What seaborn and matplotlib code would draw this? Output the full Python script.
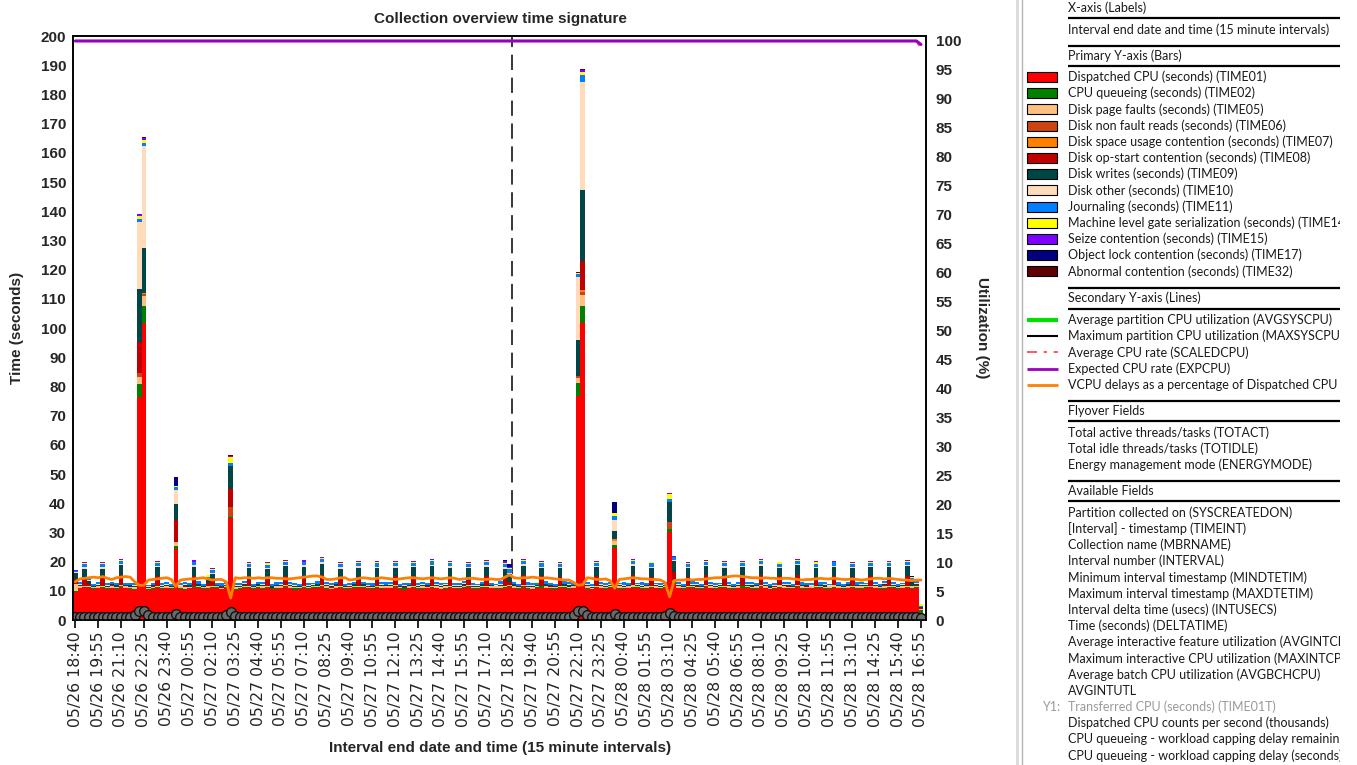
import numpy as np
import pandas as pd
import matplotlib
matplotlib.use('Agg')
import matplotlib.pyplot as plt
import seaborn as sns
from matplotlib.patches import Rectangle

# ---- data: one bar per 15 minute interval, 05/26 18:40 .. 05/28 16:55 ----
n = 186
stamps = pd.date_range('2021-05-26 18:40', periods=n, freq='15min')
interval_labels = stamps.strftime('%m/%d %H:%M').tolist()

# Dispatched CPU (seconds) (TIME01)
time01 = [
    9.5, 10.8, 11.2, 10.9, 10.6, 10.8, 11.0, 10.7, 10.9, 10.5,
    11.3, 10.8, 10.6, 10.4, 76.5, 101.6, 10.2, 10.6, 11.0, 10.7,
    10.8, 10.5, 24.2, 10.6, 10.4, 10.8, 11.2, 10.9, 10.7, 10.6,
    11.0, 10.8, 10.5, 10.9, 34.8, 10.4, 10.7, 10.9, 11.1, 10.6,
    10.8, 10.7, 11.0, 10.5, 10.6, 10.9, 11.2, 10.8, 10.4, 10.7,
    11.0, 10.6, 10.8, 10.9, 11.3, 10.7, 10.5, 10.8, 11.0, 10.6,
    10.7, 10.9, 11.1, 10.8, 10.5, 10.6, 11.0, 10.7, 10.9, 10.8,
    11.2, 10.6, 10.4, 10.8, 11.0, 10.7, 10.6, 10.9, 11.1, 10.8,
    10.5, 10.7, 11.0, 10.9, 10.6, 10.8, 11.2, 10.7, 10.5, 10.9,
    11.1, 10.8, 10.6, 10.7, 11.0, 11.3, 10.8, 10.6, 11.2, 10.7,
    10.5, 10.9, 11.1, 10.8, 10.6, 10.7, 11.0, 10.9, 10.6, 10.8,
    76.7, 101.6, 10.7, 10.5, 11.0, 10.8, 10.6, 10.9, 24.6, 10.7,
    10.5, 10.8, 11.1, 10.9, 10.6, 10.7, 11.0, 10.8, 10.5, 10.9,
    30.3, 12.5, 10.8, 10.6, 11.0, 10.9, 10.7, 10.5, 11.2, 10.8,
    10.6, 10.9, 11.0, 10.7, 10.5, 10.8, 11.1, 10.9, 10.6, 10.7,
    11.2, 10.8, 10.5, 10.7, 11.0, 10.9, 10.6, 10.8, 11.3, 10.7,
    10.5, 10.9, 11.0, 10.8, 10.6, 10.7, 11.1, 10.9, 10.5, 10.8,
    11.0, 10.7, 10.6, 10.9, 11.2, 10.8, 10.5, 10.7, 11.0, 10.9,
    10.6, 10.8, 11.1, 10.7, 11.0, 2.5,
]
# CPU queueing (seconds) (TIME02)
time02 = [
    0.5, 0.3, 0.2, 0.3, 0.4, 0.2, 0.3, 0.3, 0.2, 0.4,
    0.3, 0.2, 0.4, 0.3, 4.3, 5.9, 0.3, 0.2, 0.3, 0.4,
    0.2, 0.3, 1.1, 0.4, 0.3, 0.2, 0.3, 0.4, 0.2, 0.3,
    0.3, 0.4, 0.2, 0.3, 0.6, 0.3, 0.2, 0.4, 0.3, 0.2,
    0.4, 0.3, 0.2, 0.3, 0.4, 0.2, 0.3, 0.3, 0.4, 0.2,
    0.3, 0.2, 0.4, 0.3, 0.3, 0.4, 0.2, 0.3, 0.3, 0.2,
    0.4, 0.3, 0.2, 0.4, 0.3, 0.2, 0.3, 0.4, 0.2, 0.3,
    0.3, 0.2, 0.4, 0.3, 0.2, 0.3, 0.4, 0.2, 0.3, 0.3,
    0.2, 0.4, 0.3, 0.2, 0.3, 0.4, 0.3, 0.2, 0.4, 0.3,
    0.3, 0.2, 0.3, 0.4, 0.2, 0.3, 0.3, 0.2, 0.4, 0.3,
    0.2, 0.3, 0.4, 0.3, 0.2, 0.3, 0.3, 0.4, 0.2, 0.3,
    4.5, 5.8, 0.3, 0.2, 0.4, 0.3, 0.2, 0.3, 1.2, 0.3,
    0.4, 0.2, 0.3, 0.3, 0.2, 0.4, 0.3, 0.2, 0.3, 0.4,
    0.7, 0.4, 0.3, 0.2, 0.3, 0.4, 0.2, 0.3, 0.3, 0.2,
    0.3, 0.4, 0.2, 0.3, 0.3, 0.2, 0.4, 0.3, 0.2, 0.3,
    0.4, 0.3, 0.2, 0.3, 0.4, 0.2, 0.3, 0.3, 0.2, 0.4,
    0.3, 0.2, 0.3, 0.4, 0.2, 0.3, 0.3, 0.2, 0.4, 0.3,
    0.2, 0.3, 0.4, 0.3, 0.2, 0.3, 0.3, 0.4, 0.2, 0.3,
    0.3, 0.2, 0.3, 0.4, 0.3, 0.8,
]
# Disk page faults (seconds) (TIME05)
time05 = [
    2.5, 0.5, 0.4, 0.6, 0.4, 0.5, 0.3, 0.4, 0.6, 0.5,
    0.4, 0.5, 0.3, 0.6, 2.3, 3.5, 0.4, 0.5, 0.4, 0.3,
    0.5, 0.4, 1.5, 0.5, 0.6, 0.4, 0.3, 0.5, 0.4, 0.6,
    0.5, 0.3, 0.4, 0.5, 0.0, 0.6, 0.4, 0.5, 0.3, 0.4,
    0.5, 0.6, 0.4, 0.3, 0.5, 0.4, 0.5, 0.6, 0.4, 0.3,
    0.4, 0.5, 0.6, 0.4, 0.3, 0.5, 0.4, 0.6, 0.5, 0.4,
    0.3, 0.5, 0.4, 0.6, 0.5, 0.4, 0.3, 0.5, 0.4, 0.6,
    0.5, 0.4, 0.3, 0.5, 0.6, 0.4, 0.5, 0.3, 0.4, 0.5,
    0.6, 0.4, 0.5, 0.3, 0.4, 0.6, 0.5, 0.4, 0.3, 0.5,
    0.4, 0.5, 0.6, 0.4, 0.3, 0.4, 0.5, 0.6, 0.4, 0.3,
    0.5, 0.4, 0.3, 0.6, 0.5, 0.4, 0.4, 0.5, 0.6, 0.4,
    1.6, 3.9, 0.5, 0.4, 0.3, 0.5, 0.6, 0.4, 1.2, 0.5,
    0.4, 0.6, 0.5, 0.3, 0.4, 0.5, 0.4, 0.6, 0.5, 0.3,
    0.0, 0.4, 0.5, 0.6, 0.4, 0.3, 0.5, 0.4, 0.6, 0.5,
    0.3, 0.4, 0.5, 0.6, 0.4, 0.5, 0.3, 0.4, 0.5, 0.6,
    0.4, 0.5, 0.3, 0.4, 0.6, 0.5, 0.4, 0.3, 0.5, 0.4,
    0.6, 0.4, 0.5, 0.3, 0.4, 0.5, 0.6, 0.4, 0.3, 0.5,
    0.4, 0.5, 0.6, 0.4, 0.3, 0.5, 0.4, 0.6, 0.5, 0.4,
    0.3, 0.5, 0.4, 0.6, 0.5, 0.3,
]
# Disk non fault reads (TIME06), disk space usage contention (TIME07) - only a few intervals
time06 = {14: 1.4, 15: 0.6, 34: 3.2, 110: 0.8, 111: 1.2, 130: 2.7, 131: 0.5}
time07 = {15: 0.3, 111: 0.4, 118: 0.6}
# Disk op-start contention (seconds) (TIME08)
time08 = [
    1.5, 0.0, 2.6, 0.4, 0.0, 0.1, 3.0, 0.0, 0.2, 0.0,
    3.4, 0.0, 0.1, 0.0, 10.8, 0.0, 0.0, 0.2, 3.2, 0.0,
    0.1, 0.0, 7.4, 0.0, 0.2, 0.0, 3.1, 0.0, 0.0, 1.2,
    2.4, 0.0, 0.1, 0.0, 6.3, 0.0, 0.0, 0.2, 3.0, 0.0,
    0.0, 0.1, 2.9, 0.0, 0.0, 0.2, 3.1, 0.0, 0.1, 0.0,
    3.3, 0.0, 0.0, 0.1, 3.6, 0.0, 0.2, 0.0, 2.8, 0.0,
    0.1, 0.0, 3.0, 0.0, 0.2, 0.0, 3.2, 0.0, 0.0, 0.1,
    2.9, 0.0, 0.1, 0.0, 3.1, 0.0, 0.0, 0.2, 3.3, 0.0,
    0.0, 0.1, 3.0, 0.0, 0.0, 0.2, 2.8, 0.0, 0.1, 0.0,
    3.2, 0.0, 0.0, 0.1, 3.0, 1.0, 0.2, 0.0, 3.3, 0.0,
    0.1, 0.0, 3.1, 0.0, 0.2, 0.0, 2.9, 0.0, 0.0, 0.1,
    0.0, 9.9, 0.1, 0.0, 3.2, 0.0, 0.0, 0.2, 0.0, 0.0,
    0.1, 0.0, 3.4, 0.0, 0.2, 0.0, 3.1, 0.0, 0.0, 0.1,
    0.0, 2.6, 0.1, 0.0, 3.0, 0.0, 0.2, 0.0, 3.2, 0.0,
    0.0, 0.1, 3.1, 0.0, 0.0, 0.2, 3.0, 0.0, 0.1, 0.0,
    3.3, 0.0, 0.0, 0.1, 2.9, 0.0, 0.2, 0.0, 3.4, 0.0,
    0.1, 0.0, 3.0, 0.0, 0.2, 0.0, 3.1, 0.0, 0.0, 0.1,
    3.0, 0.0, 0.1, 0.0, 3.2, 0.0, 0.0, 0.2, 3.1, 0.0,
    0.0, 0.1, 3.3, 0.0, 0.2, 0.6,
]
# Disk writes (seconds) (TIME09)
time09 = [
    2.0, 0.4, 3.2, 1.2, 0.3, 0.5, 3.0, 0.4, 0.3, 0.5,
    3.4, 0.4, 0.5, 0.3, 18.1, 15.4, 0.4, 0.5, 3.1, 0.3,
    0.4, 0.5, 5.5, 0.3, 0.4, 0.5, 3.2, 0.4, 0.3, 1.0,
    1.6, 0.4, 0.5, 0.3, 7.8, 0.4, 0.5, 0.3, 3.1, 0.4,
    0.5, 0.3, 3.0, 0.4, 0.5, 0.3, 3.3, 0.4, 0.5, 0.3,
    3.1, 0.4, 0.3, 0.5, 3.8, 0.4, 0.3, 0.5, 3.0, 0.4,
    0.3, 0.5, 3.2, 0.4, 0.3, 0.5, 3.1, 0.4, 0.5, 0.3,
    3.0, 0.4, 0.5, 0.3, 3.2, 0.4, 0.5, 0.3, 3.3, 0.4,
    0.5, 0.3, 3.1, 0.4, 0.5, 0.3, 3.0, 0.4, 0.3, 0.5,
    3.2, 0.4, 0.3, 0.5, 3.1, 2.8, 0.4, 0.3, 3.3, 0.5,
    0.4, 0.3, 3.0, 0.5, 0.4, 0.3, 3.2, 0.4, 0.5, 0.3,
    12.2, 24.4, 0.4, 0.3, 3.1, 0.5, 0.4, 0.3, 2.8, 0.5,
    0.4, 0.3, 3.3, 0.5, 0.4, 0.3, 3.1, 0.4, 0.5, 0.3,
    6.6, 3.8, 0.4, 0.3, 3.0, 0.5, 0.4, 0.3, 3.2, 0.5,
    0.4, 0.3, 3.1, 0.5, 0.4, 0.3, 3.2, 0.4, 0.5, 0.3,
    3.3, 0.4, 0.5, 0.3, 3.0, 0.4, 0.5, 0.3, 3.4, 0.4,
    0.5, 0.3, 3.1, 0.4, 0.5, 0.3, 3.0, 0.4, 0.3, 0.5,
    3.2, 0.4, 0.3, 0.5, 3.1, 0.4, 0.3, 0.5, 3.2, 0.4,
    0.3, 0.5, 3.3, 1.5, 0.4, 0.3,
]
# Disk other (seconds) (TIME10)
time10 = [
    0.3, 0.2, 0.5, 0.2, 0.1, 0.3, 0.4, 0.2, 0.1, 0.2,
    0.5, 0.2, 0.1, 0.3, 23.0, 34.9, 0.2, 0.1, 0.5, 0.2,
    0.3, 0.1, 4.8, 0.2, 0.3, 0.1, 0.6, 0.2, 0.1, 0.3,
    0.4, 0.2, 0.1, 0.3, 0.0, 0.2, 0.1, 0.3, 0.5, 0.2,
    0.1, 0.3, 0.4, 0.2, 0.1, 0.3, 0.5, 0.2, 0.3, 0.1,
    0.6, 0.2, 0.1, 0.3, 0.4, 0.2, 0.3, 0.1, 0.5, 0.2,
    0.3, 0.1, 0.5, 0.2, 0.3, 0.1, 0.4, 0.2, 0.1, 0.3,
    0.5, 0.2, 0.3, 0.1, 0.4, 0.2, 0.3, 0.1, 0.6, 0.2,
    0.1, 0.3, 0.5, 0.2, 0.1, 0.3, 0.4, 0.2, 0.3, 0.1,
    0.5, 0.2, 0.1, 0.3, 0.6, 0.4, 0.2, 0.1, 0.5, 0.3,
    0.2, 0.1, 0.4, 0.3, 0.2, 0.1, 0.5, 0.2, 0.3, 0.1,
    21.8, 37.0, 0.2, 0.1, 0.5, 0.3, 0.2, 0.1, 3.9, 0.2,
    0.3, 0.1, 0.5, 0.2, 0.3, 0.1, 0.4, 0.2, 0.1, 0.3,
    0.0, 0.3, 0.2, 0.1, 0.5, 0.3, 0.2, 0.1, 0.4, 0.2,
    0.3, 0.1, 0.5, 0.2, 0.1, 0.3, 0.4, 0.2, 0.3, 0.1,
    0.5, 0.2, 0.1, 0.3, 0.4, 0.2, 0.3, 0.1, 0.5, 0.2,
    0.1, 0.3, 0.4, 0.2, 0.3, 0.1, 0.5, 0.2, 0.1, 0.3,
    0.4, 0.2, 0.3, 0.1, 0.5, 0.2, 0.1, 0.3, 0.4, 0.2,
    0.3, 0.1, 0.5, 0.3, 0.2, 0.0,
]
# Journaling (seconds) (TIME11)
time11 = [
    0.5, 0.7, 1.0, 0.8, 0.6, 0.7, 1.1, 0.6, 0.8, 0.7,
    1.0, 0.6, 0.8, 0.7, 0.8, 1.3, 0.6, 0.7, 1.0, 0.8,
    0.7, 0.6, 0.9, 0.8, 0.7, 0.6, 1.0, 0.8, 0.7, 0.6,
    0.9, 0.7, 0.8, 0.6, 1.2, 0.7, 0.8, 0.6, 1.0, 0.7,
    0.8, 0.6, 1.1, 0.7, 0.8, 0.6, 1.0, 0.7, 0.6, 0.8,
    1.0, 0.7, 0.6, 0.8, 1.1, 0.7, 0.8, 0.6, 1.0, 0.7,
    0.6, 0.8, 1.0, 0.7, 0.6, 0.8, 1.1, 0.7, 0.8, 0.6,
    1.0, 0.7, 0.8, 0.6, 1.0, 0.7, 0.6, 0.8, 1.1, 0.7,
    0.8, 0.6, 1.0, 0.7, 0.8, 0.6, 1.0, 0.7, 0.6, 0.8,
    1.1, 0.7, 0.6, 0.8, 1.0, 1.2, 0.7, 0.6, 1.0, 0.8,
    0.7, 0.6, 1.1, 0.8, 0.7, 0.6, 1.0, 0.8, 0.7, 0.6,
    0.9, 2.6, 0.7, 0.8, 1.0, 0.6, 0.7, 0.8, 1.2, 0.6,
    0.8, 0.7, 1.0, 0.6, 0.8, 0.7, 1.1, 0.6, 0.7, 0.8,
    1.2, 1.0, 0.7, 0.6, 1.0, 0.8, 0.7, 0.6, 1.1, 0.8,
    0.7, 0.6, 1.0, 0.8, 0.7, 0.6, 1.0, 0.8, 0.7, 0.6,
    1.1, 0.8, 0.7, 0.6, 1.0, 0.8, 0.7, 0.6, 1.0, 0.8,
    0.7, 0.6, 1.0, 0.8, 0.7, 0.6, 1.1, 0.8, 0.7, 0.6,
    1.0, 0.8, 0.7, 0.6, 1.0, 0.8, 0.7, 0.6, 1.1, 0.8,
    0.7, 0.6, 1.0, 0.9, 0.7, 0.3,
]
# Machine level gate serialization (seconds) (TIME14)
time14 = [
    0.0, 0.0, 0.3, 0.0, 0.0, 0.0, 0.4, 0.0, 0.0, 0.0,
    0.3, 0.0, 0.0, 0.0, 1.2, 0.8, 0.0, 0.0, 0.4, 0.0,
    0.0, 0.0, 0.5, 0.0, 0.0, 0.0, 0.3, 0.0, 0.0, 0.8,
    0.4, 0.0, 0.0, 0.0, 1.8, 0.0, 0.0, 0.0, 0.3, 0.0,
    0.0, 0.0, 0.4, 0.0, 0.0, 0.0, 0.3, 0.0, 0.0, 0.0,
    0.3, 0.0, 0.0, 0.0, 0.4, 0.0, 0.0, 0.0, 0.3, 0.0,
    0.0, 0.0, 0.4, 0.0, 0.0, 0.0, 0.3, 0.0, 0.0, 0.0,
    0.4, 0.0, 0.0, 0.0, 0.3, 0.0, 0.0, 0.0, 0.4, 0.0,
    0.0, 0.0, 0.3, 0.0, 0.0, 0.0, 0.4, 0.0, 0.0, 0.0,
    0.3, 0.0, 0.0, 0.0, 0.4, 0.5, 0.0, 0.0, 0.3, 0.0,
    0.0, 0.3, 0.4, 0.0, 0.0, 0.0, 0.3, 0.0, 0.0, 0.0,
    0.5, 1.0, 0.0, 0.0, 0.3, 0.0, 0.0, 0.0, 1.2, 0.0,
    0.0, 0.0, 0.4, 0.0, 0.0, 0.0, 0.3, 0.0, 0.0, 0.0,
    1.6, 0.0, 0.0, 0.0, 0.4, 0.0, 0.0, 0.0, 0.3, 0.0,
    0.0, 0.0, 0.3, 0.0, 0.0, 0.0, 0.4, 0.0, 0.0, 0.0,
    0.3, 0.0, 0.0, 0.0, 0.4, 0.0, 0.0, 0.0, 0.3, 0.0,
    0.0, 0.0, 0.4, 0.0, 0.0, 0.0, 0.3, 0.0, 0.0, 0.0,
    0.3, 0.0, 0.8, 0.0, 0.4, 0.0, 0.0, 0.0, 0.3, 0.0,
    0.0, 0.0, 0.4, 0.3, 0.0, 0.7,
]
# Seize contention (seconds) (TIME15)
time15 = [
    0.3, 0.0, 0.4, 0.0, 0.0, 0.0, 0.3, 0.0, 0.0, 0.0,
    0.4, 0.0, 0.0, 0.0, 0.5, 0.6, 0.0, 0.0, 0.4, 0.0,
    0.0, 0.0, 0.0, 0.0, 0.0, 0.0, 0.4, 0.0, 0.0, 0.0,
    0.3, 0.0, 0.0, 0.0, 0.5, 0.0, 0.0, 0.0, 0.4, 0.0,
    0.0, 0.0, 0.3, 0.0, 0.0, 0.0, 0.4, 0.0, 0.0, 0.0,
    0.4, 0.0, 0.0, 0.0, 0.5, 0.0, 0.0, 0.0, 0.4, 0.0,
    0.0, 0.0, 0.3, 0.0, 0.0, 0.0, 0.4, 0.0, 0.0, 0.0,
    0.4, 0.0, 0.0, 0.0, 0.3, 0.0, 0.0, 0.0, 0.4, 0.0,
    0.0, 0.0, 0.4, 0.0, 0.0, 0.0, 0.3, 0.0, 0.0, 0.0,
    0.4, 0.0, 0.0, 0.0, 0.5, 0.4, 0.0, 0.0, 0.4, 0.0,
    0.0, 0.0, 0.3, 0.0, 0.0, 0.0, 0.4, 0.0, 0.0, 0.0,
    0.0, 0.5, 0.0, 0.0, 0.4, 0.0, 0.0, 0.0, 0.0, 0.0,
    0.0, 0.0, 0.4, 0.0, 0.0, 0.0, 0.3, 0.0, 0.0, 0.0,
    0.3, 0.4, 0.0, 0.0, 0.4, 0.0, 0.0, 0.0, 0.4, 0.0,
    0.0, 0.0, 0.4, 0.0, 0.0, 0.0, 0.3, 0.0, 0.0, 0.0,
    0.4, 0.0, 0.0, 0.0, 0.3, 0.0, 0.0, 0.0, 0.4, 0.0,
    0.0, 0.0, 0.4, 0.0, 0.0, 0.0, 0.3, 0.0, 0.0, 0.0,
    0.4, 0.0, 0.0, 0.0, 0.4, 0.0, 0.0, 0.0, 0.3, 0.0,
    0.0, 0.0, 0.4, 0.0, 0.0, 0.0,
]
# Object lock contention (TIME17), abnormal contention (TIME32) - only a few intervals
time17 = {22: 3.2, 62: 0.2, 94: 0.6, 95: 0.8, 118: 3.6, 183: 0.3}
time32 = {14: 0.3, 15: 0.4, 34: 0.4, 110: 0.2, 111: 0.4, 130: 0.2}

# secondary axis (%)
vcpu_delay_pct = [
    6.6, 7.1, 7.2, 7.3, 7.4, 7.3, 7.5, 7.2, 7.0, 7.3,
    7.4, 7.5, 7.4, 6.6, 6.0, 6.0, 6.9, 7.0, 7.1, 7.2,
    7.3, 7.0, 5.8, 6.9, 7.0, 7.1, 7.1, 7.2, 7.3, 7.1,
    6.9, 7.0, 7.0, 6.6, 3.8, 7.3, 7.2, 7.3, 7.3, 7.2,
    7.3, 7.2, 7.3, 7.3, 7.2, 7.2, 7.1, 7.1, 7.2, 7.3,
    7.4, 7.5, 7.6, 7.6, 7.4, 7.0, 7.0, 7.1, 7.3, 7.3,
    6.9, 7.0, 7.2, 7.3, 7.2, 7.1, 7.2, 7.3, 7.2, 7.1,
    7.0, 7.1, 7.2, 7.3, 7.3, 7.2, 7.1, 7.2, 7.3, 7.2,
    7.1, 7.2, 7.3, 7.2, 7.0, 7.1, 7.2, 7.2, 7.1, 7.0,
    7.0, 7.1, 7.0, 7.0, 7.4, 7.8, 7.3, 7.2, 7.3, 7.3,
    7.4, 7.3, 7.2, 7.3, 7.2, 7.1, 7.0, 6.9, 6.9, 6.5,
    6.0, 6.1, 7.3, 7.2, 7.0, 7.0, 7.1, 6.8, 5.5, 7.0,
    7.1, 7.2, 7.3, 7.2, 7.1, 7.1, 7.0, 7.0, 6.9, 6.5,
    4.0, 6.8, 6.9, 6.9, 7.0, 6.9, 7.0, 7.0, 7.1, 7.2,
    7.3, 7.3, 7.4, 7.5, 7.6, 7.6, 7.5, 7.4, 7.3, 7.3,
    7.2, 7.3, 7.2, 7.2, 7.1, 7.2, 7.2, 7.1, 7.0, 6.9,
    7.0, 7.0, 7.1, 7.2, 7.1, 7.1, 7.2, 7.1, 7.0, 7.0,
    7.1, 7.0, 6.9, 7.0, 7.1, 7.2, 7.2, 7.1, 7.2, 7.1,
    7.0, 6.9, 6.9, 6.8, 6.9, 6.9,
]
max_sys_cpu = [
    0.6, 0.5, 0.5, 0.6, 0.5, 0.5, 0.6, 0.5, 0.5, 0.5,
    0.6, 0.5, 0.5, 0.9, 1.6, 1.6, 0.8, 0.5, 0.6, 0.5,
    0.5, 0.6, 1.0, 0.6, 0.5, 0.5, 0.6, 0.5, 0.5, 0.5,
    0.6, 0.5, 0.5, 0.8, 1.3, 0.7, 0.5, 0.5, 0.6, 0.5,
    0.5, 0.5, 0.6, 0.5, 0.5, 0.5, 0.6, 0.5, 0.5, 0.5,
    0.6, 0.5, 0.5, 0.5, 0.6, 0.5, 0.5, 0.5, 0.6, 0.5,
    0.5, 0.5, 0.6, 0.5, 0.5, 0.5, 0.6, 0.5, 0.5, 0.5,
    0.6, 0.5, 0.5, 0.5, 0.6, 0.5, 0.5, 0.5, 0.6, 0.5,
    0.5, 0.5, 0.6, 0.5, 0.5, 0.5, 0.6, 0.5, 0.5, 0.5,
    0.6, 0.5, 0.5, 0.5, 0.6, 0.6, 0.5, 0.5, 0.6, 0.5,
    0.5, 0.5, 0.6, 0.5, 0.5, 0.5, 0.6, 0.5, 0.5, 0.8,
    1.5, 1.6, 0.8, 0.5, 0.6, 0.5, 0.5, 0.6, 1.0, 0.6,
    0.5, 0.5, 0.6, 0.5, 0.5, 0.5, 0.6, 0.5, 0.5, 0.7,
    1.2, 0.7, 0.5, 0.5, 0.6, 0.5, 0.5, 0.5, 0.6, 0.5,
    0.5, 0.5, 0.6, 0.5, 0.5, 0.5, 0.6, 0.5, 0.5, 0.5,
    0.6, 0.5, 0.5, 0.5, 0.6, 0.5, 0.5, 0.5, 0.6, 0.5,
    0.5, 0.5, 0.6, 0.5, 0.5, 0.5, 0.6, 0.5, 0.5, 0.5,
    0.6, 0.5, 0.5, 0.5, 0.6, 0.5, 0.5, 0.5, 0.6, 0.5,
    0.5, 0.5, 0.6, 0.5, 0.5, 0.4,
]
# expected / average CPU rate sit flat at 100 % for the whole collection
exp_cpu = [100.0] * 185 + [99.4]
scaled_cpu = [100.0] * 185 + [98.8]
marker_interval = 95.5   # dashed marker line

bar_series = [
    ('Dispatched CPU (seconds) (TIME01)', time01, '#FF0000'),
    ('CPU queueing (seconds) (TIME02)', time02, '#008000'),
    ('Disk page faults (seconds) (TIME05)', time05, '#FFBF80'),
    ('Disk non fault reads (seconds) (TIME06)', time06, '#CC4411'),
    ('Disk space usage contention (seconds) (TIME07)', time07, '#FF8000'),
    ('Disk op-start contention (seconds) (TIME08)', time08, '#C00000'),
    ('Disk writes (seconds) (TIME09)', time09, '#004646'),
    ('Disk other (seconds) (TIME10)', time10, '#FFDABB'),
    ('Journaling (seconds) (TIME11)', time11, '#0080FF'),
    ('Machine level gate serialization (seconds) (TIME14)', time14, '#FFFF00'),
    ('Seize contention (seconds) (TIME15)', time15, '#8000FF'),
    ('Object lock contention (seconds) (TIME17)', time17, '#000080'),
    ('Abnormal contention (seconds) (TIME32)', time32, '#600000'),
]

line_series = [
    ('Average partition CPU utilization (AVGSYSCPU)', '#00E000', 3.0, '-'),
    ('Maximum partition CPU utilization (MAXSYSCPU)', 'black', 1.5, '-'),
    ('Average CPU rate (SCALEDCPU)', '#FF4040', 1.2, (0, (6, 4, 2, 4))),
    ('Expected CPU rate (EXPCPU)', '#9A00C0', 2.0, '-'),
    ('VCPU delays as a percentage of Dispatched CPU', '#FF8000', 2.0, '-'),
]


def dense(vals):
    if isinstance(vals, dict):
        arr = np.zeros(n)
        for k, v in vals.items():
            arr[k] = v
        return arr
    arr = np.asarray(vals, dtype=float)
    assert len(arr) == n
    return arr


sns.set_theme(style='white')
plt.rcParams['font.family'] = ['Liberation Sans', 'DejaVu Sans']

W, H = 1357, 765
fig = plt.figure(figsize=(W / 100, H / 100), dpi=100)
ax = fig.add_axes([73 / W, 1 - 620 / H, (926 - 73) / W, (620 - 36) / H])

x = np.arange(n)
bottom = np.zeros(n)
for name, vals, col in bar_series:
    v = dense(vals)
    ax.bar(x, v, width=1.0, bottom=bottom, color=col, linewidth=0, zorder=2)
    bottom += v

ax.axvline(marker_interval, color='black', lw=1.1, dashes=(10, 5), zorder=1)

ax.set_xlim(-0.5, 186.1)
ax.set_ylim(0, 200)
ax.set_yticks(range(0, 201, 10))
ax.set_xticks(x[::5])
ax.set_xticklabels(interval_labels[::5], rotation=90, fontsize=11.3,
                   fontfamily='DejaVu Sans')
ax.tick_params(axis='x', bottom=True, length=6, width=1.2, pad=2, color='black')
ax.tick_params(axis='y', left=False, length=0, pad=5, labelsize=11)
for t in ax.get_yticklabels():
    t.set_fontweight('bold')
ax.set_xlabel('')
ax.set_ylabel('')

# secondary axis lines
ax2 = ax.twinx()
sns.lineplot(x=x, y=vcpu_delay_pct, ax=ax2, color='#FF8000', lw=2.0, errorbar=None)
sns.lineplot(x=x, y=scaled_cpu, ax=ax2, color='#FF4040', lw=1.5, linestyle='--',
             errorbar=None)
sns.lineplot(x=x, y=exp_cpu, ax=ax2, color='#9A00C0', lw=2.2, errorbar=None)
sns.lineplot(x=x, y=max_sys_cpu, ax=ax2, color='black', lw=1.5, marker='o',
             markersize=7, markerfacecolor='#6a6a6a', markeredgecolor='#111111',
             markeredgewidth=1.0, errorbar=None)
ax2.set_ylim(0, 100.86)
ax2.set_yticks(range(0, 101, 5))
ax2.tick_params(axis='y', right=False, length=0, pad=7, labelsize=11)
for t in ax2.get_yticklabels():
    t.set_fontweight('bold')
ax2.set_ylabel('')
ax2.grid(False)
ax.grid(False)
for a in (ax, ax2):
    for s in a.spines.values():
        s.set_color('black')
        s.set_linewidth(1.2)

fig.text(500 / W, 1 - 19 / H, 'Collection overview time signature', ha='center',
         va='center', fontsize=11, fontweight='bold')
fig.text(17 / W, 1 - 328 / H, 'Time (seconds)', rotation=90, ha='center',
         va='center', fontsize=11, fontweight='bold')
fig.text(982 / W, 1 - 328 / H, 'Utilization (%)', rotation=270, ha='center',
         va='center', fontsize=11, fontweight='bold')
fig.text(500 / W, 1 - 748 / H, 'Interval end date and time (15 minute intervals)',
         ha='center', va='center', fontsize=11, fontweight='bold')

# ---- field panel on the right ----
pan = fig.add_axes([1015 / W, 0, (1340 - 1015) / W, 1])
pan.set_xlim(1015, 1340)
pan.set_ylim(H, 0)
pan.axis('off')
pan.plot([1016.5, 1016.5], [0, H], color='#dcdcdc', lw=2.2)
pan.plot([1021.5, 1021.5], [0, H], color='#b4b4b4', lw=1.0)

TX = 1068
pfont = dict(fontsize=9, fontfamily=['Lato', 'DejaVu Sans'], va='center',
             ha='left', color='#1a1a1a', clip_on=True)


def rule(y):
    pan.plot([TX, 1340], [y, y], color='black', lw=1.6, solid_capstyle='butt')


pan.text(TX, 8, 'X-axis (Labels)', **pfont)
rule(18)
pan.text(TX, 30, 'Interval end date and time (15 minute intervals)', **pfont)
rule(46)
pan.text(TX, 56, 'Primary Y-axis (Bars)', **pfont)
rule(66)
for i, (name, vals, col) in enumerate(bar_series):
    y = 77 + i * 16.2
    pan.add_patch(Rectangle((1027, y - 5), 30, 10, facecolor=col,
                            edgecolor='black', lw=0.8))
    pan.text(TX, y, name, **pfont)
rule(287.5)
pan.text(TX, 298, 'Secondary Y-axis (Lines)', **pfont)
rule(308.5)
for i, (name, col, lw, ls) in enumerate(line_series):
    y = 320 + i * 16.2
    pan.plot([1027, 1058], [y, y], color=col, lw=lw, linestyle=ls,
             solid_capstyle='butt')
    pan.text(TX, y, name, **pfont)
rule(401)
pan.text(TX, 411, 'Flyover Fields', **pfont)
rule(421)
flyover = ['Total active threads/tasks (TOTACT)', 'Total idle threads/tasks (TOTIDLE)',
           'Energy management mode (ENERGYMODE)']
for i, t in enumerate(flyover):
    pan.text(TX, 432.5 + i * 16.1, t, **pfont)
rule(481)
pan.text(TX, 491, 'Available Fields', **pfont)
rule(501)
available = [
    'Partition collected on (SYSCREATEDON)',
    '[Interval] - timestamp (TIMEINT)',
    'Collection name (MBRNAME)',
    'Interval number (INTERVAL)',
    'Minimum interval timestamp (MINDTETIM)',
    'Maximum interval timestamp (MAXDTETIM)',
    'Interval delta time (usecs) (INTUSECS)',
    'Time (seconds) (DELTATIME)',
    'Average interactive feature utilization (AVGINTCPU)',
    'Maximum interactive CPU utilization (MAXINTCPU)',
    'Average batch CPU utilization (AVGBCHCPU)',
    'AVGINTUTL',
    'Transferred CPU (seconds) (TIME01T)',
    'Dispatched CPU counts per second (thousands)',
    'CPU queueing - workload capping delay remaining',
    'CPU queueing - workload capping delay (seconds)',
]
for i, t in enumerate(available):
    y = 512.5 + i * 16.2
    if t.startswith('Transferred'):
        pan.text(1042, y, 'Y1:', **{**pfont, 'color': '#9a9a9a'})
        pan.text(TX, y, t, **{**pfont, 'color': '#9a9a9a'})
    else:
        pan.text(TX, y, t, **pfont)

fig.savefig('out.png', dpi=100)
